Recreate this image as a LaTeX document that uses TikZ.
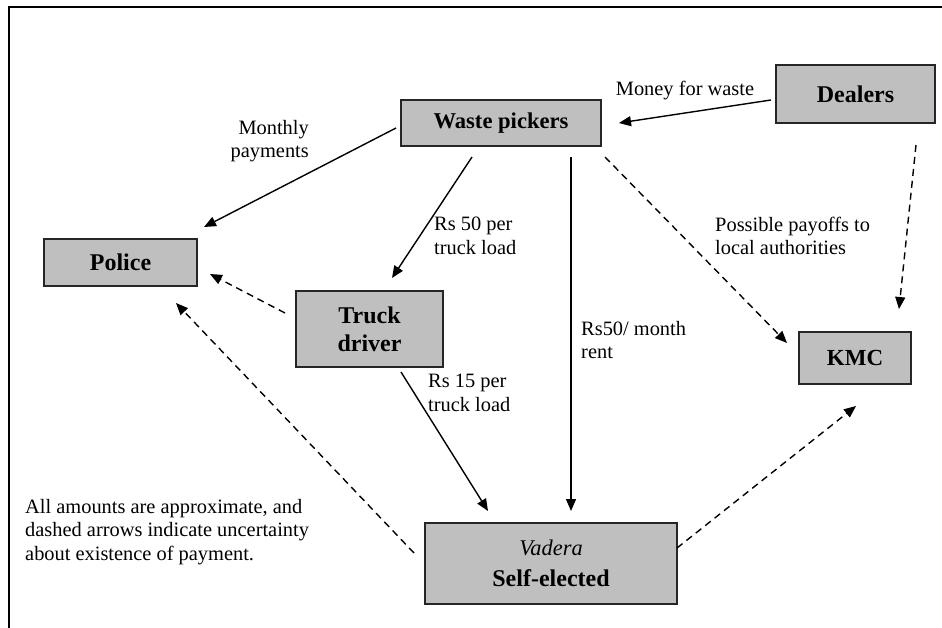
\documentclass[tikz,border=0pt]{standalone}
\usepackage{fontspec}
\setmainfont{Liberation Serif}
\usetikzlibrary{arrows.meta}
\begin{document}
\begin{tikzpicture}[x=1pt,y=-1pt,
  box/.style={draw=black!85,line width=1.3pt,fill=black!25,inner sep=0pt,align=center,font=\fontsize{24}{28}\selectfont\bfseries},
  lbl/.style={inner sep=0pt,font=\fontsize{20.4}{23.7}\selectfont},
  arr/.style={line width=1.4pt,-{Triangle[length=12pt,width=10pt]}},
  darr/.style={arr,dash pattern=on 7pt off 5pt}]
\useasboundingbox (0,0) rectangle (942,628);
\draw[line width=1.3pt] (9,628) -- (9,7) -- (942,7);
% nodes
\node[box,minimum width=200,minimum height=46,font=\fontsize{22.6}{26}\selectfont\bfseries] (waste) at (501,123) {Waste pickers};
\node[box,minimum width=159,minimum height=58] (dealers) at (855.5,94) {Dealers};
\node[box,minimum width=153,minimum height=47] (police) at (120.5,262.5) {Police};
\node[box,minimum width=147,minimum height=76] (truck) at (369.5,329) {Truck\\driver};
\node[box,minimum width=112,minimum height=52,font=\fontsize{23}{26}\selectfont\bfseries] (kmc) at (855,358) {KMC};
\node[box,minimum width=252,minimum height=81] (vadera) at (551,563.5) {{\fontsize{22.4}{25}\selectfont\mdseries\itshape Vadera}\\[3pt]Self-elected};
% connector end points
\coordinate (d1) at (771,100);  \coordinate (w1) at (619,123);
\coordinate (w2) at (396,128);  \coordinate (p1) at (204,227);
\coordinate (w3) at (472,157);  \coordinate (t1) at (392,278);
\coordinate (w4) at (571,157);  \coordinate (v1) at (571,511);
\coordinate (w5) at (605,157);  \coordinate (k1) at (787,343);
\coordinate (d2) at (916,145);  \coordinate (k2) at (899,309);
\coordinate (t2) at (285,313);  \coordinate (p2) at (210,274);
\coordinate (v2) at (414,553);  \coordinate (p3) at (176,303);
\coordinate (t3) at (401,372);  \coordinate (v3) at (488,511);
\coordinate (v4) at (677,548);  \coordinate (k3) at (856,406);
% connectors
\draw[arr] (d1) -- (w1);
\draw[arr] (w2) -- (p1);
\draw[arr] (w3) -- (t1);
\draw[arr] (w4) -- (v1);
\draw[darr] (w5) -- (k1);
\draw[darr] (d2) -- (k2);
\draw[darr] (t2) -- (p2);
\draw[darr] (v2) -- (p3);
\draw[arr] (t3) -- (v3);
\draw[darr] (v4) -- (k3);
% labels
\node[lbl] (l1) at (685,91) {Money for waste};
\node[lbl,anchor=east,align=right] (l2) at (309,141) {Monthly\\payments};
\node[lbl,anchor=west,align=left] (l3) at (434,236) {Rs 50 per\\truck load};
\node[lbl,anchor=west,align=left] (l4) at (715,236) {Possible payoffs to\\local authorities};
\node[lbl,anchor=west,align=left] (l5) at (581,340) {Rs50/ month\\rent};
\node[lbl,anchor=west,align=left] (l6) at (428,393) {Rs 15 per\\truck load};
\node[lbl,anchor=west,align=left] (l7) at (25,532) {All amounts are approximate, and\\dashed arrows indicate uncertainty\\about existence of payment.};
\end{tikzpicture}
\end{document}
